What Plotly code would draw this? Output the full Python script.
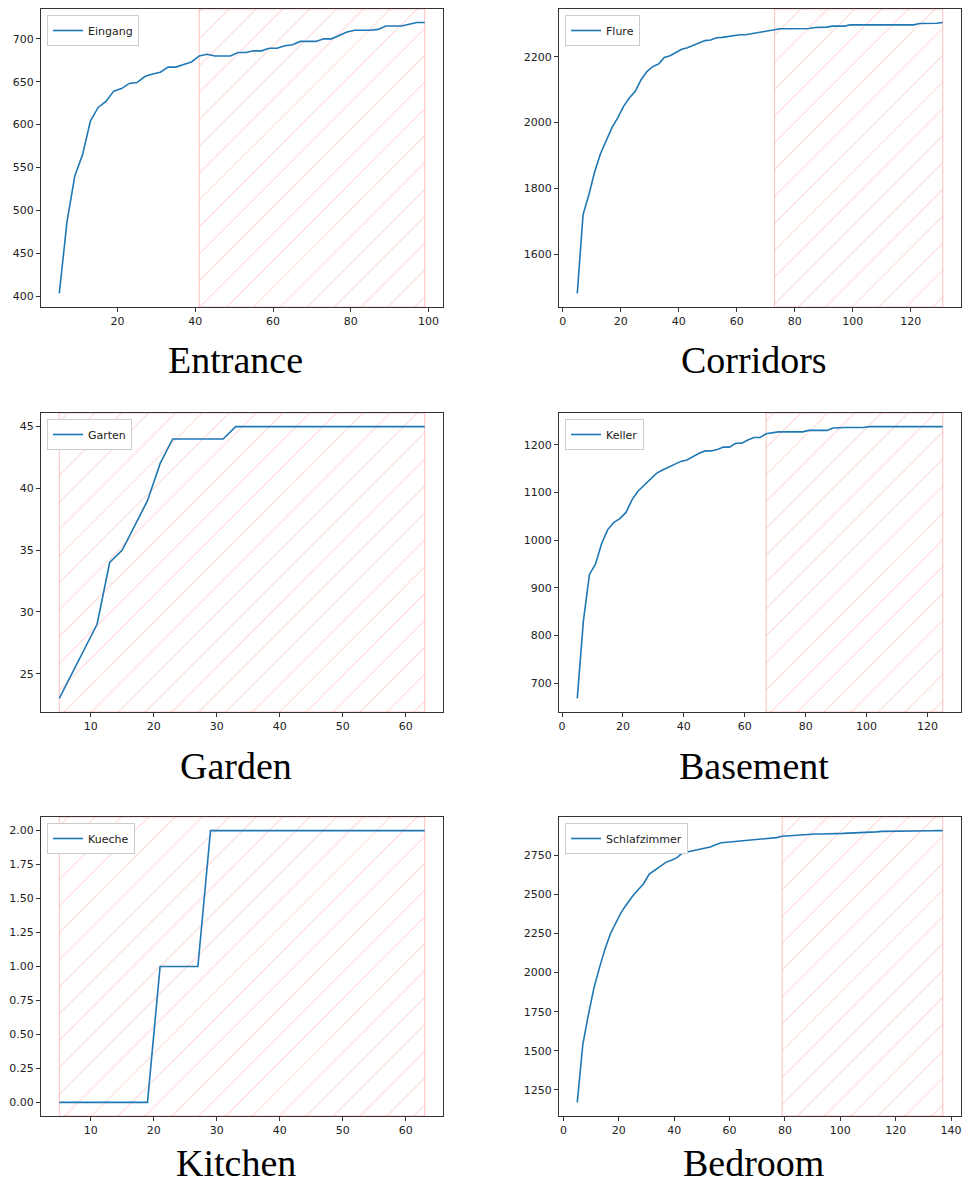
import plotly.graph_objects as go

# ---------------- data ----------------
titles = ["Entrance", "Corridors", "Garden", "Basement", "Kitchen", "Bedroom"]
names = ["Eingang", "Flure", "Garten", "Keller", "Kueche", "Schlafzimmer"]

x_eingang = list(range(5, 100, 2))
y_eingang = [403, 487, 540, 565, 604, 620, 627, 639, 642, 648, 649, 656, 659, 661, 667, 667,
             670, 673, 680, 682, 680, 680, 680, 684, 684, 686, 686, 689, 689, 692, 693, 697,
             697, 697, 700, 700, 704, 708, 710, 710, 710, 711, 715, 715, 715, 717, 719, 719]

x_flure = list(range(5, 132, 2))
y_flure = [1480, 1720, 1780, 1850, 1905, 1945, 1985, 2015, 2050, 2075, 2095, 2130, 2155, 2170,
           2178, 2198, 2203, 2213, 2223, 2227, 2235, 2243, 2249, 2251, 2258, 2259, 2262, 2265,
           2267, 2267, 2269, 2273, 2276, 2279, 2284, 2285, 2285, 2285, 2285, 2286, 2286, 2289,
           2289, 2290, 2293, 2293, 2293, 2297, 2297, 2297, 2297, 2296, 2296, 2297, 2297, 2297,
           2297, 2297, 2297, 2301, 2301, 2301, 2302, 2304]

x_garten = list(range(5, 64, 2))
y_garten = [23, 25, 27, 29, 34, 35, 37, 39, 42, 44, 44, 44, 44, 44, 45, 45, 45, 45, 45, 45,
            45, 45, 45, 45, 45, 45, 45, 45, 45, 45]

x_keller = list(range(5, 126, 2))
y_keller = [668, 830, 928, 950, 993, 1022, 1037, 1045, 1058, 1085, 1103, 1115, 1128, 1140,
            1147, 1153, 1160, 1165, 1168, 1175, 1182, 1187, 1187, 1190, 1195, 1195, 1203, 1203,
            1210, 1215, 1215, 1223, 1225, 1227, 1227, 1227, 1227, 1227, 1230, 1230, 1230, 1230,
            1235, 1236, 1236, 1236, 1236, 1236, 1238, 1238, 1238, 1238, 1238, 1238, 1238, 1238,
            1238, 1238, 1238, 1238, 1238]

x_kueche = list(range(5, 64, 2))
y_kueche = [0, 0, 0, 0, 0, 0, 0, 0, 1, 1, 1, 1, 2, 2, 2, 2, 2, 2, 2, 2, 2, 2, 2, 2, 2, 2, 2,
            2, 2, 2]

x_schlaf = list(range(5, 138, 2))
y_schlaf = [1170, 1540, 1730, 1900, 2030, 2150, 2250, 2320, 2390, 2440, 2490, 2530, 2570, 2630,
            2655, 2680, 2705, 2718, 2735, 2765, 2772, 2780, 2787, 2797, 2803, 2817, 2830, 2833,
            2836, 2839, 2842, 2845, 2850, 2855, 2858, 2860, 2863, 2872, 2875, 2877, 2880, 2882,
            2885, 2886, 2886, 2886, 2886, 2888, 2890, 2892, 2893, 2897, 2898, 2899, 2900, 2903,
            2903, 2904, 2904, 2905, 2905, 2906, 2906, 2907, 2907, 2908, 2908]

hatch_start = [41, 73, 5, 67, 5, 79]
hatch_end = [99, 131, 63, 125, 63, 137]

x_dticks = [20, 20, 10, 20, 10, 20]
y_dticks = [50, 200, 5, 100, 0.25, 250]
y_formats = ["", "", "", "", ".2f", ""]

xs = [x_eingang, x_flure, x_garten, x_keller, x_kueche, x_schlaf]
ys = [y_eingang, y_flure, y_garten, y_keller, y_kueche, y_schlaf]

# ---------------- layout geometry ----------------
W, H = 965, 1184
col_px = [(41, 443), (559, 961)]
row_px = [(9, 307), (413, 712), (817, 1116)]
title_y_px = [360.5, 765.5, 1163]
title_x_px = [235.5, 753.5]

fig = go.Figure()
annotations = []
layout_extra = {}

for i in range(6):
    r, c = divmod(i, 2)
    ax = "" if i == 0 else str(i + 1)
    xref, yref = "x" + ax, "y" + ax
    x, y = xs[i], ys[i]
    xlo, xhi = min(x), max(x)
    ylo, yhi = min(y), max(y)
    xm = 0.05 * (xhi - xlo)
    ym = 0.05 * (yhi - ylo)
    xr = [xlo - xm, xhi + xm]
    yr = [ylo - ym, yhi + ym]

    # hatched span
    hs, he = hatch_start[i], hatch_end[i]
    fig.add_trace(go.Scatter(
        x=[hs, he, he, hs, hs], y=[yr[0], yr[0], yr[1], yr[1], yr[0]],
        xaxis=xref, yaxis=yref, mode="lines", fill="toself",
        fillcolor="rgba(0,0,0,0)",
        fillpattern=dict(shape="/", fgcolor="rgba(255,110,110,0.55)",
                         bgcolor="rgba(0,0,0,0)", size=19, solidity=0.06),
        line=dict(color="rgba(255,100,100,0.4)", width=1),
        showlegend=False, hoverinfo="skip"))

    leg = "legend" if i == 0 else "legend" + str(i + 1)
    fig.add_trace(go.Scatter(
        x=x, y=y, xaxis=xref, yaxis=yref, mode="lines", name=names[i],
        line=dict(color="#1f77b4", width=1.6), legend=leg))

    x0, x1 = col_px[c]
    y0, y1 = row_px[r]
    axis_common = dict(showline=True, mirror=True, linecolor="#333", linewidth=1,
                       ticks="outside", ticklen=4, tickcolor="#333", showgrid=False,
                       zeroline=False, tickfont=dict(family="DejaVu Sans", size=11, color="#222"))
    layout_extra["xaxis" + ax] = dict(domain=[x0 / W, x1 / W], range=xr, anchor=yref,
                                      tick0=0, dtick=x_dticks[i], **axis_common)
    layout_extra["yaxis" + ax] = dict(domain=[1 - y1 / H, 1 - y0 / H], range=yr, anchor=xref,
                                      tick0=0, dtick=y_dticks[i], tickformat=y_formats[i],
                                      **axis_common)
    layout_extra[leg] = dict(x=(x0 + 6) / W, y=1 - (y0 + 6) / H, xanchor="left", yanchor="top",
                             bgcolor="white", bordercolor="#ccc", borderwidth=1,
                             font=dict(family="DejaVu Sans", size=11, color="#222"),
                             itemwidth=30, tracegroupgap=0)
    annotations.append(dict(text=titles[i], x=title_x_px[c] / W, y=1 - title_y_px[r] / H,
                            xref="paper", yref="paper", showarrow=False, xanchor="center",
                            yanchor="middle", height=32, valign="middle",
                            font=dict(family="Liberation Serif", size=38, color="black")))

fig.update_layout(width=W, height=H, margin=dict(l=0, r=0, t=0, b=0),
                  paper_bgcolor="white", plot_bgcolor="white",
                  annotations=annotations, showlegend=True, **layout_extra)

fig.write_html("out.html", config={"displayModeBar": False},
               post_script="document.body.style.margin='0px';"
                           "document.body.style.overflow='hidden';")
